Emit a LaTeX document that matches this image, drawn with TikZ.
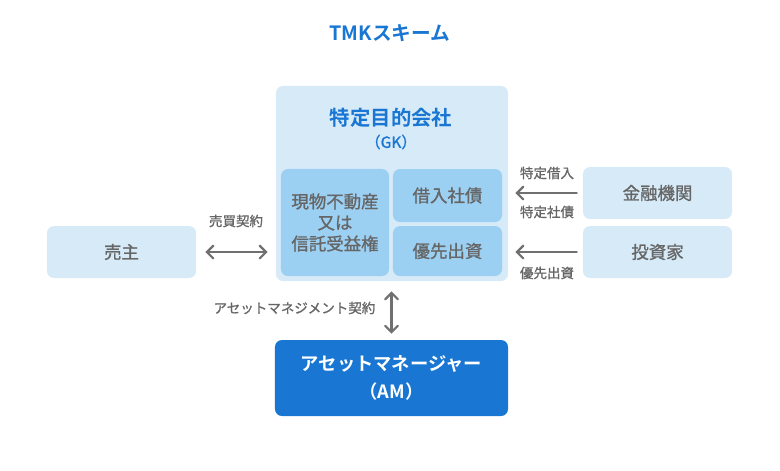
\documentclass[tikz,border=0pt]{standalone}
\usepackage{fontspec}
\setmainfont{Noto Sans CJK JP}[BoldFont={Noto Sans CJK JP Bold}]
\newfontfamily\medfont{Noto Sans CJK JP}[RawFeature={embolden=1.1}]
\usetikzlibrary{arrows.meta}
\definecolor{boxlight}{RGB}{214,234,248}
\definecolor{boxmid}{RGB}{155,208,243}
\definecolor{amblue}{RGB}{25,118,210}
\definecolor{txtgray}{RGB}{102,102,102}
\definecolor{arrgray}{RGB}{112,112,112}
\tikzset{
  box/.style={fill=boxlight, rounded corners=5pt, text=txtgray, font=\medfont\fontsize{12.4}{14}\selectfont, align=center, inner sep=0pt},
  inbox/.style={box, fill=boxmid},
  lbl/.style={text=txtgray, font=\medfont\fontsize{9.6}{11}\selectfont, inner sep=1pt},
  arr/.style={draw=arrgray, line width=1.6pt, line cap=round, arrows={-Straight Barb[length=4.5pt, width=9pt, line cap=round]}},
  darr/.style={arr, arrows={Straight Barb[length=4.5pt, width=9pt, line cap=round]-Straight Barb[length=4.5pt, width=9pt, line cap=round]}}
}
\begin{document}
\begin{tikzpicture}[x=0.025cm, y=-0.025cm]
  \useasboundingbox (0,0) rectangle (780,470);
  \node[text=amblue, font=\bfseries\fontsize{14}{16}\selectfont] (title) at (390,33) {TMKスキーム};

  \node[box, minimum width=5.8cm, minimum height=4.875cm] (spv) at (392,183.5) {};
  \node[text=amblue, font=\bfseries\fontsize{14.5}{17}\selectfont] (spvname) at (391,118) {特定目的会社};
  \node[text=amblue, font=\medfont\fontsize{11}{13}\selectfont] (spvgk) at (391,142) {（GK）};
  \node[inbox, minimum width=2.7cm, minimum height=2.675cm, font=\medfont\fontsize{12.4}{15}\selectfont] (asset) at (335,222.5) {現物不動産\\又は\\信託受益権};
  \node[inbox, minimum width=2.725cm, minimum height=1.325cm] (debt) at (447.5,195.5) {借入社債};
  \node[inbox, minimum width=2.725cm, minimum height=1.25cm] (equity) at (447.5,251) {優先出資};

  \node[box, minimum width=3.725cm, minimum height=1.3cm] (lender) at (657.5,193) {金融機関};
  \node[box, minimum width=3.725cm, minimum height=1.3cm] (investor) at (657.5,252) {投資家};
  \node[box, minimum width=3.725cm, minimum height=1.3cm] (seller) at (121.5,252) {売主};

  \node[box, fill=amblue, text=white, minimum width=5.825cm, minimum height=1.9cm, font=\bfseries\fontsize{13}{19.5}\selectfont] (am) at (391.5,378) {アセットマネージャー\\（AM）};

  \draw[arr, shorten <=0.15cm, shorten >=0.175cm] (lender.west) -- (lender.west -| spv.east);
  \draw[arr, shorten <=0.15cm, shorten >=0.175cm] (investor.west) -- (investor.west -| spv.east);
  \draw[darr, shorten <=0.225cm, shorten >=0.2cm] (seller.east) -- (seller.east -| spv.west);
  \draw[darr, shorten <=0.25cm, shorten >=0.15cm] (spv.south -| am.north) -- (am.north);

  \node[lbl] (l1) at (547,173) {特定借入};
  \node[lbl] (l2) at (547,212) {特定社債};
  \node[lbl] (l3) at (547,273) {優先出資};
  \node[lbl] (l4) at (236,221) {売買契約};
  \node[lbl, anchor=east] (l5) at (377,308) {アセットマネジメント契約};
\end{tikzpicture}
\end{document}
